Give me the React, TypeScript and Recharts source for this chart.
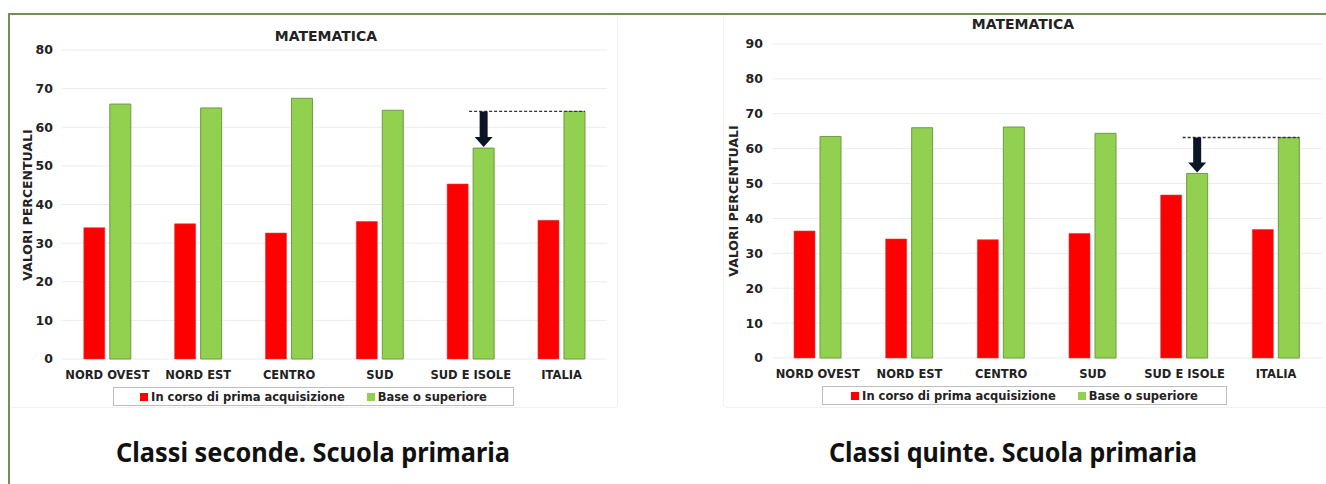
import { BarChart, Bar, XAxis, YAxis, CartesianGrid, LabelList } from 'recharts'

const REGIONS = ['NORD OVEST', 'NORD EST', 'CENTRO', 'SUD', 'SUD E ISOLE', 'ITALIA']
const SECONDE_IN_CORSO = [34, 35, 32.6, 35.6, 45.3, 35.9]
const SECONDE_BASE = [66, 65, 67.5, 64.4, 54.6, 64.1]
const QUINTE_IN_CORSO = [36.4, 34.1, 33.9, 35.7, 46.7, 36.8]
const QUINTE_BASE = [63.5, 66, 66.2, 64.4, 52.9, 63.2]
const SECONDE_TICKS = [0, 10, 20, 30, 40, 50, 60, 70, 80]
const QUINTE_TICKS = [0, 10, 20, 30, 40, 50, 60, 70, 80, 90]
const SERIES = ['In corso di prima acquisizione', 'Base o superiore']
const CAPTIONS = ['Classi seconde. Scuola primaria', 'Classi quinte. Scuola primaria']
const TITLE = 'MATEMATICA'
const Y_LABEL = 'VALORI PERCENTUALI'

const HIGHLIGHT = 4 // SUD E ISOLE
const REFERENCE = 5 // ITALIA

const RED = '#ff0000'
const GREEN = '#92d050'
const FONT = '"DejaVu Sans", Verdana, sans-serif'

function buildRows(a: number[], b: number[]) {
  return REGIONS.map((name, i) => ({ name, a: a[i], b: b[i] }))
}

interface PanelProps {
  left: number
  width: number
  height: number
  margin: { top: number; right: number; left: number; bottom: number }
  yWidth: number
  inCorso: number[]
  base: number[]
  ticks: number[]
  title: { x: number; y: number }
  yLabelX: number
  legend: { x: number; y: number; w: number }
}

const X_AXIS_H = 16

function Panel(p: PanelProps) {
  const rows = buildRows(p.inCorso, p.base)
  const plotW = p.width - p.margin.left - p.margin.right - p.yWidth
  const band = plotW / REGIONS.length
  const plotMid = p.margin.top + (p.height - p.margin.top - p.margin.bottom - X_AXIS_H) / 2

  const arrow = (props: any) => {
    const { x, y, width, height, index, value } = props
    if (index !== HIGHLIGHT) return null
    const pxPerUnit = Number(height) / Number(value)
    const refY = Number(y) + Number(height) - p.base[REFERENCE] * pxPerUnit
    const cx = Number(x) + Number(width) / 2
    const tip = Number(y) - 1
    const headH = 10
    return (
      <g>
        <line x1={Number(x) - 4} x2={Number(x) + Number(width) + band} y1={refY} y2={refY}
              stroke="#333" strokeWidth={1.3} strokeDasharray="3 2" />
        <polygon
          points={`${cx - 4},${refY} ${cx + 4},${refY} ${cx + 4},${tip - headH} ${cx + 9},${tip - headH} ${cx},${tip} ${cx - 9},${tip - headH} ${cx - 4},${tip - headH}`}
          fill="#0b1526" />
      </g>
    )
  }

  return (
    <div style={{ position: 'absolute', left: p.left, top: 0, width: p.width, height: p.height, fontFamily: FONT }}>
      <BarChart width={p.width} height={p.height} data={rows} margin={p.margin}
                barCategoryGap="24%" barGap={5}>
        <CartesianGrid vertical={false} stroke="#ececec" />
        <XAxis dataKey="name" height={X_AXIS_H} axisLine={false} tickLine={false} tickSize={0} tickMargin={12}
               interval={0} tick={{ fill: '#222', fontSize: 11.5, fontWeight: 700, fontFamily: FONT }} />
        <YAxis width={p.yWidth} domain={[0, p.ticks[p.ticks.length - 1]]} ticks={p.ticks}
               axisLine={false} tickLine={false} tickSize={0} tickMargin={9}
               tick={{ fill: '#222', fontSize: 12.5, fontWeight: 700, fontFamily: FONT }} />
        <Bar dataKey="a" name={SERIES[0]} fill={RED} stroke="#d04040" strokeWidth={0.6} isAnimationActive={false} />
        <Bar dataKey="b" name={SERIES[1]} fill={GREEN} stroke="#6f9a45" strokeWidth={1} isAnimationActive={false}>
          <LabelList dataKey="b" content={arrow} />
        </Bar>
      </BarChart>
      <div style={{ position: 'absolute', left: p.title.x - 100, width: 200, top: p.title.y - 9, textAlign: 'center',
                    fontSize: 14, fontWeight: 700, color: '#222' }}>{TITLE}</div>
      <div style={{ position: 'absolute', left: p.yLabelX - 100, top: plotMid - 8, width: 200, textAlign: 'center',
                    transform: 'rotate(-90deg)', fontSize: 12.5, fontWeight: 700, color: '#222', lineHeight: '16px' }}>
        {Y_LABEL}
      </div>
      <div style={{ position: 'absolute', left: p.legend.x, top: p.legend.y, width: p.legend.w, height: 17,
                    border: '1px solid #bdbdbd', background: '#fff', display: 'flex', justifyContent: 'center',
                    alignItems: 'center', gap: 22, fontSize: 11.5, fontWeight: 700, color: '#222' }}>
        <span style={{ display: 'flex', alignItems: 'center', gap: 3 }}>
          <span style={{ width: 8, height: 8, background: RED, display: 'inline-block' }} />{SERIES[0]}
        </span>
        <span style={{ display: 'flex', alignItems: 'center', gap: 3 }}>
          <span style={{ width: 8, height: 8, background: GREEN, display: 'inline-block' }} />{SERIES[1]}
        </span>
      </div>
    </div>
  )
}

export default function App() {
  return (
    <div style={{ position: 'absolute', left: 0, top: 0, width: 1326, height: 484, background: '#fff', overflow: 'hidden' }}>
      {/* faint panel edges */}
      <div style={{ position: 'absolute', left: 10, top: 15, width: 607, height: 392, borderRight: '1px solid #f1f1f1',
                    borderBottom: '1px solid #f1f1f1', borderRadius: 4 }} />
      <div style={{ position: 'absolute', left: 723, top: 15, width: 620, height: 392, borderLeft: '1px solid #f1f1f1',
                    borderBottom: '1px solid #f1f1f1', borderRadius: 4 }} />
      <Panel left={0} width={620} height={420} margin={{ top: 50, right: 13, left: 0, bottom: 45 }} yWidth={62}
             inCorso={SECONDE_IN_CORSO} base={SECONDE_BASE} ticks={SECONDE_TICKS}
             title={{ x: 326, y: 37 }} yLabelX={28} legend={{ x: 113, y: 387, w: 399 }} />
      <Panel left={700} width={626} height={420} margin={{ top: 44, right: 4, left: 0, bottom: 46 }} yWidth={72}
             inCorso={QUINTE_IN_CORSO} base={QUINTE_BASE} ticks={QUINTE_TICKS}
             title={{ x: 323, y: 25 }} yLabelX={34} legend={{ x: 122, y: 386, w: 403 }} />
      {/* green frame */}
      <div style={{ position: 'absolute', left: 8, top: 13, width: 1330, height: 480, borderTop: '2px solid #6f8f5a',
                    borderLeft: '2px solid #6f8f5a' }} />
      <svg width={1326} height={484} style={{ position: 'absolute', left: 0, top: 0, pointerEvents: 'none' }}>
        <text x={313} y={462} textAnchor="middle" textLength={394} lengthAdjust="spacingAndGlyphs"
              fontFamily='"Noto Sans", sans-serif' fontWeight={700} fontSize={26} fill="#111">{CAPTIONS[0]}</text>
        <text x={1013} y={462} textAnchor="middle" textLength={368} lengthAdjust="spacingAndGlyphs"
              fontFamily='"Noto Sans", sans-serif' fontWeight={700} fontSize={26} fill="#111">{CAPTIONS[1]}</text>
      </svg>
    </div>
  )
}
